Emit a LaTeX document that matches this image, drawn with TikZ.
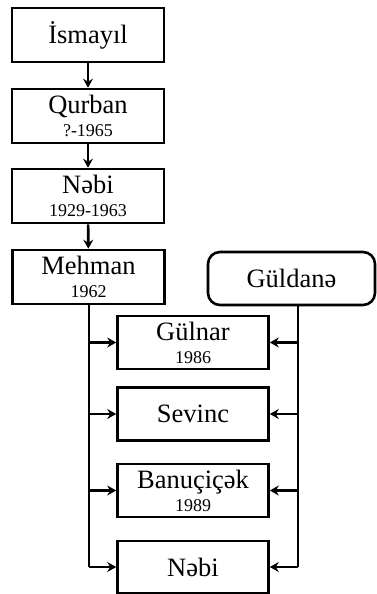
\documentclass[tikz,border=0pt]{standalone}
\usepackage{fontspec}
\setmainfont{Liberation Serif}
\usetikzlibrary{arrows.meta}
\newcommand{\yrf}{\fontsize{18}{20}\selectfont}
\begin{document}
\begin{tikzpicture}[x=1pt,y=-1pt,
  box/.style={draw, line width=2.6pt, minimum width=152pt, minimum height=54pt, inner sep=0pt,
    align=center, font=\fontsize{26.5}{23}\selectfont},
  kid/.style={box, minimum width=151pt, minimum height=53pt},
  link/.style={line width=2.6pt, -{Stealth[length=9pt,width=10pt,inset=3pt]}}]
\useasboundingbox (0,0) rectangle (376,594);
\node[box] (ism) at (88,35) {İsmayıl};
\node[box] (qur) at (88,116) {Qurban\\{\yrf ?-1965}};
\node[box] (nab) at (88,196) {Nəbi\\{\yrf 1929-1963}};
\node[box] (meh) at (88.5,277) {Mehman\\{\yrf 1962}};
\node[box, rounded corners=12pt, minimum width=167pt, minimum height=53pt] (gul) at (291.5,278.5) {Güldanə};
\node[kid] (c1) at (193,342.5) {Gülnar\\{\yrf 1986}};
\node[kid] (c2) at (193,414) {Sevinc};
\node[kid] (c3) at (193,490.5) {Banuçiçək\\{\yrf 1989}};
\node[kid, minimum height=52pt] (c4) at (193,567) {Nəbi};
\draw[link] (ism) -- (qur);
\draw[link] (qur) -- (nab);
\draw[link] (nab) -- (meh);
\coordinate (L) at (89,0);
\coordinate (R) at (298,0);
\draw[line width=2.6pt] (L |- meh.south) -- (L |- c4.west);
\draw[line width=2.6pt] (R |- gul.south) -- (R |- c4.east);
\foreach \c in {c1,c2,c3,c4}{
  \draw[link] (L |- \c.west) -- (\c.west);
  \draw[link] (R |- \c.east) -- (\c.east);
}
\end{tikzpicture}
\end{document}
